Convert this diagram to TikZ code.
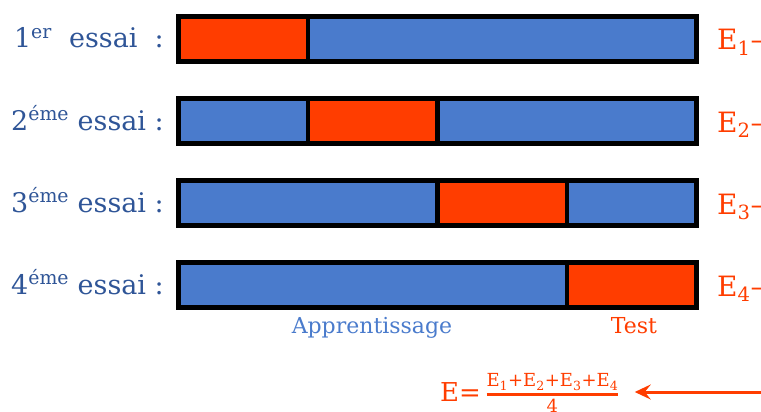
\documentclass[tikz,border=0pt]{standalone}
\usepackage{fontspec}
\setmainfont{DejaVu Serif}
\usetikzlibrary{arrows.meta}
\definecolor{redo}{HTML}{FF3D00}
\definecolor{barblue}{HTML}{4A7BCC}
\definecolor{txtblue}{HTML}{2F5597}
\begin{document}
\begin{tikzpicture}[x=1pt,y=-1pt,
  segbox/.style={draw=black,line width=4.5pt,minimum width=129.5pt,minimum height=45pt,inner sep=0pt,outer sep=0pt},
  learn/.style={segbox,fill=barblue},
  testseg/.style={segbox,fill=redo},
  trylabel/.style={anchor=base east,text=txtblue,font=\fontsize{27}{32}\selectfont,inner sep=0pt},
  elabel/.style={anchor=base west,text=redo,font=\fontsize{28}{34}\selectfont,inner sep=0pt},
  legend/.style={anchor=base,font=\fontsize{22}{26}\selectfont,inner sep=0pt}]
\useasboundingbox (0,0) rectangle (761,412);
% row 1
\node[testseg]  (r1a) at (243.25,39) {};
\node[learn]    (r1b) at (372.75,39) {};
\node[learn]    (r1c) at (502.25,39) {};
\node[learn]    (r1d) at (631.75,39) {};
\fill[barblue] ([xshift=2.25pt,yshift=-2.25pt]r1b.north west) rectangle ([xshift=-2.25pt,yshift=2.25pt]r1d.south east);
\draw[line width=4.5pt] (r1b.north west) rectangle (r1d.south east);
% row 2
\node[learn]    (r2a) at (243.25,121) {};
\node[testseg]  (r2b) at (372.75,121) {};
\node[learn]    (r2c) at (502.25,121) {};
\node[learn]    (r2d) at (631.75,121) {};
\fill[barblue] ([xshift=2.25pt,yshift=-2.25pt]r2c.north west) rectangle ([xshift=-2.25pt,yshift=2.25pt]r2d.south east);
\draw[line width=4.5pt] (r2c.north west) rectangle (r2d.south east);
% row 3
\node[learn]    (r3a) at (243.25,203) {};
\node[learn]    (r3b) at (372.75,203) {};
\node[testseg]  (r3c) at (502.25,203) {};
\node[learn]    (r3d) at (631.75,203) {};
\fill[barblue] ([xshift=2.25pt,yshift=-2.25pt]r3a.north west) rectangle ([xshift=-2.25pt,yshift=2.25pt]r3b.south east);
\draw[line width=4.5pt] (r3a.north west) rectangle (r3b.south east);
% row 4
\node[learn]    (r4a) at (243.25,285) {};
\node[learn]    (r4b) at (372.75,285) {};
\node[learn]    (r4c) at (502.25,285) {};
\node[testseg]  (r4d) at (631.75,285) {};
\fill[barblue] ([xshift=2.25pt,yshift=-2.25pt]r4a.north west) rectangle ([xshift=-2.25pt,yshift=2.25pt]r4c.south east);
\draw[line width=4.5pt] (r4a.north west) rectangle (r4c.south east);
% left labels
\node[trylabel] (t1) at (164,48) {1\textsuperscript{er}\ \ essai\ \ :};
\node[trylabel] (t2) at (164,130) {2\textsuperscript{éme} essai :};
\node[trylabel] (t3) at (164,212) {3\textsuperscript{éme} essai :};
\node[trylabel] (t4) at (164,294) {4\textsuperscript{éme} essai :};
% right labels
\node[elabel] (e1) at (717,50) {E\textsubscript{1}–};
\node[elabel] (e2) at (717,132) {E\textsubscript{2}–};
\node[elabel] (e3) at (717,214) {E\textsubscript{3}–};
\node[elabel] (e4) at (717,296) {E\textsubscript{4}–};
% legend
\node[legend,text=barblue] (appr) at (372,333) {Apprentissage};
\node[legend,text=redo] (test) at (634,333) {Test};
% formula
\node[anchor=base west,text=redo,font=\fontsize{26}{30}\selectfont,inner sep=0pt] (formula) at (440,401)
  {E=\,\({\hbox{\fontsize{18}{20}\selectfont E\textsubscript{1}+E\textsubscript{2}+E\textsubscript{3}+E\textsubscript{4}}\above 3pt \hbox{\fontsize{18}{20}\selectfont 4}}\)};
\coordinate (astart) at (761,392);
\draw[redo,line width=3pt,-{Stealth[length=16pt,width=15pt,inset=6pt]}] (astart) -- (formula.east |- astart) [shorten >=15pt];
\end{tikzpicture}
\end{document}
